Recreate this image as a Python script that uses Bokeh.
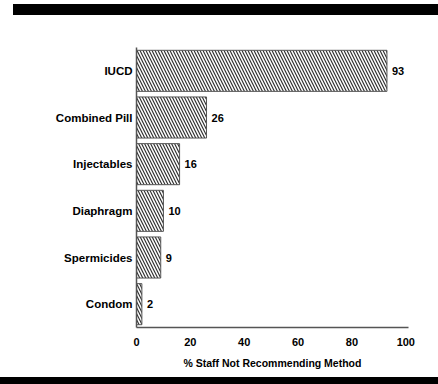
from bokeh.plotting import figure
from bokeh.layouts import column
from bokeh.models import FactorRange, Range1d, ColumnDataSource, Div
from bokeh.core.properties import value
from bokeh.embed import file_html
from bokeh.resources import INLINE

methods = ["IUCD", "Combined Pill", "Injectables", "Diaphragm", "Spermicides", "Condom"]
pct_not_recommending = [93, 26, 16, 10, 9, 2]
x_ticks = [0, 20, 40, 60, 80, 100]
x_title = "% Staff Not Recommending Method"

FONT = "Liberation Sans"

src = ColumnDataSource(dict(
    method=methods,
    pct=pct_not_recommending,
    label=[str(v) for v in pct_not_recommending],
))

p = figure(width=430, height=362, toolbar_location=None, output_backend="svg",
           y_range=FactorRange(factors=list(reversed(methods))),
           x_range=Range1d(0, 101),
           min_border_left=136, min_border_right=22,
           min_border_top=32, min_border_bottom=50,
           outline_line_color=None, background_fill_color="white",
           border_fill_color="white")

p.hbar(y="method", right="pct", left=0, height=0.88, source=src,
       fill_color="white", line_color="#555555", line_width=1,
       hatch_pattern="\\", hatch_color="#333333", hatch_scale=6,
       hatch_weight=1.2)

p.text(x="pct", y="method", text="label", source=src, x_offset=5,
       text_baseline="middle", text_align="left",
       text_font=value(FONT), text_font_style="bold",
       text_font_size="11px", text_color="black")

p.grid.visible = False

p.xaxis.ticker = x_ticks
p.xaxis.axis_label = x_title
p.xaxis.axis_label_text_font = FONT
p.xaxis.axis_label_text_font_style = "bold"
p.xaxis.axis_label_text_font_size = "10.5px"
p.xaxis.axis_label_standoff = 8
p.xaxis.major_label_text_font = FONT
p.xaxis.major_label_text_font_style = "bold"
p.xaxis.major_label_text_font_size = "11px"
p.xaxis.major_label_standoff = 10
p.xaxis.major_tick_out = 0
p.xaxis.major_tick_in = 0
p.xaxis.minor_tick_out = 0
p.xaxis.minor_tick_in = 0

p.yaxis.major_label_text_font = FONT
p.yaxis.major_label_text_font_style = "bold"
p.yaxis.major_label_text_font_size = "11.5px"
p.yaxis.major_label_standoff = 4
p.yaxis.major_tick_out = 0
p.yaxis.major_tick_in = 0

for ax in (p.xaxis, p.yaxis):
    ax.axis_line_color = "#555555"
    ax.axis_line_width = 1.5
    ax.major_label_text_color = "black"
    ax.axis_label_text_color = "black"

# black rules above and below the chart
top_rule = Div(text="", width=425, height=11, margin=(4, 0, 0, 13),
               styles={"background-color": "black"})
bottom_rule = Div(text="", width=438, height=7, margin=(0, 0, 0, 0),
                  styles={"background-color": "black"})

layout = column(top_rule, p, bottom_rule, spacing=0)

open("out.html", "w").write(file_html(layout, INLINE))
